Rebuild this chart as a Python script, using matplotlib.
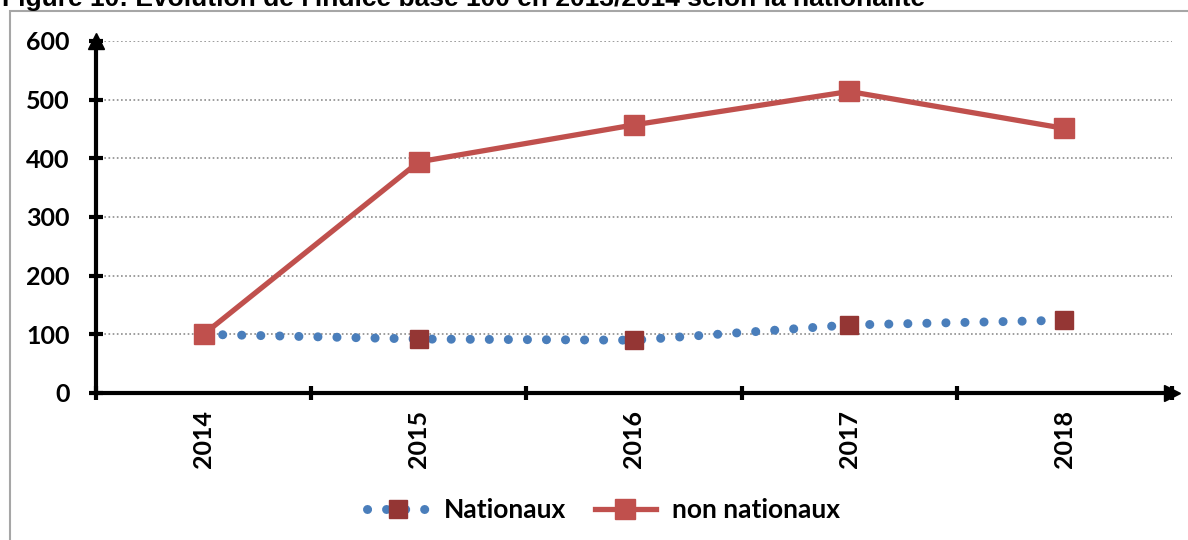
import numpy as np
import matplotlib
matplotlib.use('Agg')
import matplotlib.pyplot as plt
from matplotlib.patches import Rectangle

# data
years = ['2014', '2015', '2016', '2017', '2018']
nationaux = [100, 92, 90, 116, 124]
non_nationaux = [100, 394, 457, 514, 451]
y_ticks = [0, 100, 200, 300, 400, 500, 600]
title = "Figure 10: Evolution de l'indice base 100 en 2013/2014 selon la nationalité"

fig = plt.figure(figsize=(11.88, 5.4), dpi=100)
ax = fig.add_axes([96 / 1188, 1 - 393 / 540, (1172 - 96) / 1188, (393 - 41) / 540])

x = np.arange(len(years))

# Nationaux: round dotted blue line with dark red squares
ax.plot(x, nationaux, color='#4A7EBB', linewidth=6.5,
        linestyle=(0, (0.01, 2.1)), dash_capstyle='round',
        marker='s', markersize=13, markerfacecolor='#943634',
        markeredgecolor='#943634', zorder=4, label='Nationaux')

# non nationaux: solid red line with squares
ax.plot(x, non_nationaux, color='#C0504D', linewidth=3.8,
        marker='s', markersize=14, markerfacecolor='#C0504D',
        markeredgecolor='#C0504D', zorder=5, label='non nationaux')

ax.set_xlim(-0.5, len(years) - 0.5)
ax.set_ylim(0, 600)

tick_font = dict(fontsize=18, fontweight='bold', family='Lato')
ax.set_yticks(y_ticks)
ax.set_yticklabels([str(v) for v in y_ticks], **tick_font)
ax.set_xticks(np.arange(-0.5, len(years)))
ax.set_xticklabels([])
ax.set_xticks(x, minor=True)
ax.set_xticklabels(years, minor=True, rotation=90, **tick_font)
ax.tick_params(axis='x', which='minor', length=0, pad=12)
ax.tick_params(axis='x', which='major', direction='inout', length=10, width=3)
ax.tick_params(axis='y', direction='inout', length=10, width=3, pad=14)

for s in ['top', 'right']:
    ax.spines[s].set_visible(False)
for s in ['left', 'bottom']:
    ax.spines[s].set_linewidth(3)

ax.yaxis.grid(True, linestyle=(0, (1, 1.5)), color='#8C8C8C', linewidth=1.2)
ax.set_axisbelow(True)

# axis arrows
ax.plot(1, 0, '>k', markersize=12, transform=ax.transAxes, clip_on=False)
ax.plot(0, 1, '^k', markersize=12, transform=ax.transAxes, clip_on=False)

leg = fig.legend(loc='center', bbox_to_anchor=(0.508, 0.056), ncol=2,
                 frameon=False, handlelength=2.3, columnspacing=1.1,
                 handletextpad=0.6, prop={'family': 'Lato', 'weight': 'bold',
                                          'size': 19})

# outer border
fig.patches.append(Rectangle((10 / 1188, -0.1), 1.1, 0.1 + 1 - 11 / 540,
                             transform=fig.transFigure, fill=False,
                             edgecolor='#A6A6A6', linewidth=1.5))

fig.text(0.002, 1 - 6 / 540, title, fontsize=19, fontweight='bold',
         family='Liberation Sans', va='baseline', ha='left')

fig.savefig('out.png', dpi=100)
